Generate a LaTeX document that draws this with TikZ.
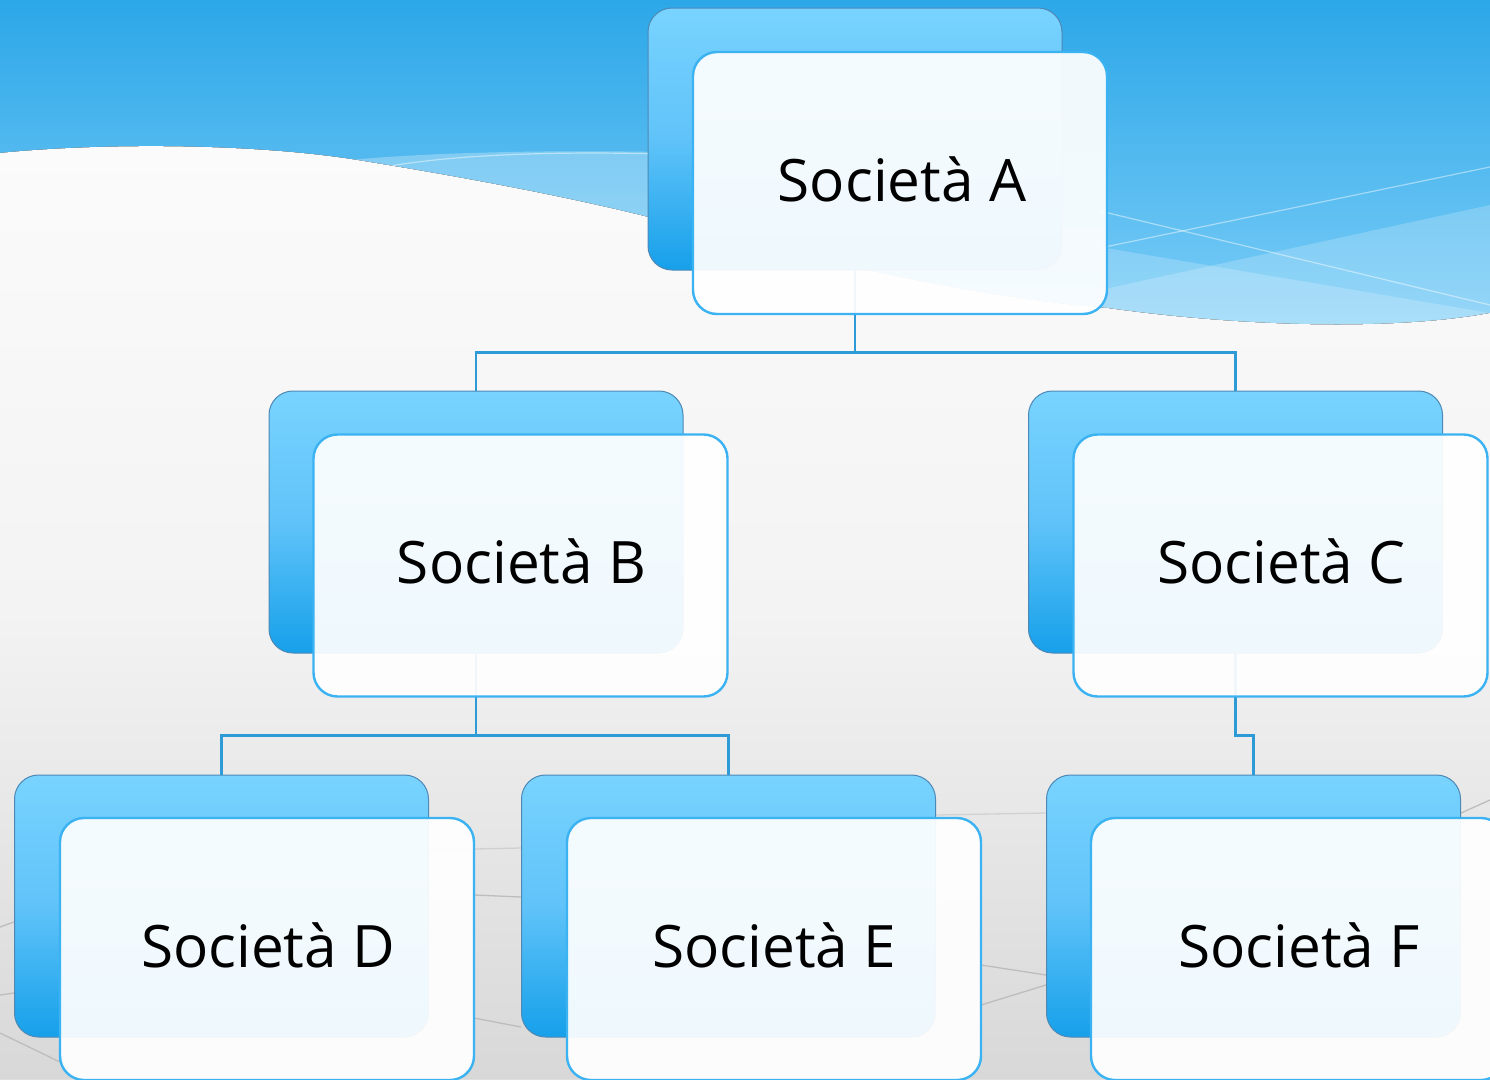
\documentclass[tikz,border=0pt]{standalone}
\usepackage{fontspec}
\setmainfont{Open Sans}
\definecolor{bgTop}{HTML}{2CA7E8}
\definecolor{bgBlueBot}{HTML}{80CFF8}
\definecolor{flTop}{HTML}{FBFBFB}
\definecolor{flMid}{HTML}{F3F3F3}
\definecolor{flBot}{HTML}{D8D8D8}
\definecolor{bkTop}{HTML}{78D3FE}
\definecolor{bkMid}{HTML}{60C3F9}
\definecolor{bkBot}{HTML}{16A0EA}
\definecolor{bkLine}{HTML}{4E88B5}
\definecolor{frLine}{HTML}{3BB2F2}
\definecolor{connC}{HTML}{2F9BD6}
\definecolor{floorC}{HTML}{BDBDBD}
\begin{document}
\begin{tikzpicture}[x=1pt,y=-1pt,
  backbox/.style={rounded corners=24pt, minimum width=414pt, minimum height=262pt, inner sep=0pt,
     top color=bkTop, bottom color=bkBot, middle color=bkMid, draw=bkLine, line width=1pt},
  frontbox/.style={rounded corners=24pt, minimum width=414pt, minimum height=262pt, inner sep=0pt,
     fill=white, fill opacity=0.93, draw=frLine, line width=2.4pt},
  lbl/.style={anchor=base, font=\fontsize{58.5}{60}\selectfont, text=black, inner sep=0pt},
  conn/.style={draw=connC, line width=2.2pt},
  floorline/.style={draw=floorC, line width=1.3pt},
  glint/.style={draw=white, draw opacity=0.45, line width=1.2pt}]
\useasboundingbox (0,0) rectangle (1490,1079);
\clip (0,0) rectangle (1490,1079);
% background: blue top
\fill[top color=bgTop, bottom color=bgBlueBot] (0,0) rectangle (1490,345);
% light bands
\fill[white, fill opacity=0.28] (330,162) .. controls (420,152) and (550,150) .. (660,152) -- (660,270) -- (330,270) -- cycle;
\draw[glint] (385,167) .. controls (450,155) and (550,151) .. (660,154);
\fill[white, fill opacity=0.2] (1100,290) -- (1490,205) -- (1490,345) -- (1100,345) -- cycle;
\fill[white, fill opacity=0.2] (1100,247) -- (1490,313) -- (1490,345) -- (1100,345) -- cycle;
\draw[glint] (1100,211) -- (1490,305);
\draw[glint] (1100,248) -- (1490,167);
% lower light region
\fill[top color=flTop, bottom color=flBot, middle color=flMid]
  (0,153) .. controls (100,143) and (250,143) .. (357,160)
  .. controls (450,175) and (560,195) .. (648,217)
  .. controls (800,255) and (950,295) .. (1107,308)
  .. controls (1250,328) and (1400,330) .. (1490,313)
  -- (1490,1079) -- (0,1079) -- cycle;
% floor lines
\draw[floorline] (0,927) -- (14,922);
\draw[floorline] (0,995) -- (14,993);
\draw[floorline] (0,1033) -- (60,1062);
\draw[floorline] (474,895) -- (521,897);
\draw[floorline] (474,1018) -- (521,1027);
\draw[floorline, draw opacity=0.5] (429,850) -- (521,848);
\draw[floorline] (981,965) -- (1046,975);
\draw[floorline] (981,1005) -- (1046,985);
\draw[floorline, draw opacity=0.5] (936,815) -- (1046,813);
\draw[floorline] (1461,813) -- (1490,800);
% back boxes
\node[backbox] (aback) at (855,139) {};
\node[backbox] (bback) at (476,522) {};
\node[backbox] (cback) at (1235.5,522) {};
\node[backbox] (dback) at (221.5,906) {};
\node[backbox] (eback) at (728.5,906) {};
\node[backbox] (fback) at (1253.5,906) {};
% connectors
\draw[conn] (aback.south) -- ++(0,82) -| (bback.north);
\draw[conn] (aback.south) -- ++(0,82) -| (cback.north);
\draw[conn] (bback.south) -- ++(0,82) -| (dback.north);
\draw[conn] (bback.south) -- ++(0,82) -| (eback.north);
\draw[conn] (cback.south) -- ++(0,82) -| (fback.north);
% front boxes
\node[frontbox] (a) at (900,183) {};
\node[frontbox] (b) at (520.5,565.5) {};
\node[frontbox] (c) at (1280.5,565.5) {};
\node[frontbox] (d) at (267,949) {};
\node[frontbox] (e) at (774,949) {};
\node[frontbox] (f) at (1298,949) {};
% labels
\node[lbl] (ta) at (902,201) {Società A};
\node[lbl] (tb) at (521.5,583) {Società B};
\node[lbl] (tc) at (1281.5,583) {Società C};
\node[lbl] (td) at (268,967) {Società D};
\node[lbl] (te) at (774,967) {Società E};
\node[lbl] (tf) at (1299,967) {Società F};
\end{tikzpicture}
\end{document}
